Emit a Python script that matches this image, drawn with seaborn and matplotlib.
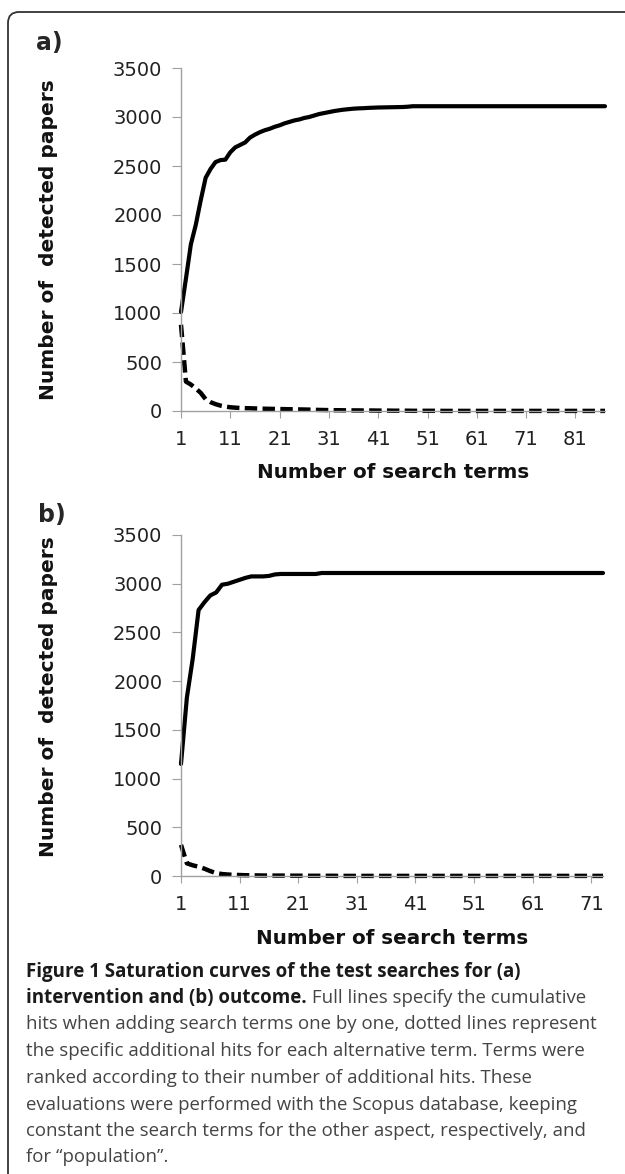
import numpy as np
import pandas as pd
import matplotlib
matplotlib.use("Agg")
import matplotlib.pyplot as plt
from matplotlib.patches import FancyBboxPatch
import seaborn as sns

# cumulative hits (full line) and additional hits (dashed line), panel a
cum_a = [1010, 1350, 1700, 1900, 2150, 2380, 2470, 2540, 2560, 2565,
         2640, 2690, 2715, 2740, 2790, 2820, 2845, 2865, 2880, 2900,
         2915, 2935, 2950, 2965, 2975, 2990, 3000, 3015, 3030, 3040,
         3050, 3060, 3068, 3075, 3080, 3085, 3088, 3090, 3093, 3095,
         3097, 3098, 3099, 3100, 3101, 3102, 3105, 3110, 3110, 3110,
         3110, 3110, 3110, 3110, 3110, 3110, 3110, 3110, 3110, 3110,
         3110, 3110, 3110, 3110, 3110, 3110, 3110, 3110, 3110, 3110,
         3110, 3110, 3110, 3110, 3110, 3110, 3110, 3110, 3110, 3110,
         3110, 3110, 3110, 3110, 3110, 3110, 3110]
add_a = [880, 300, 270, 230, 185, 120, 90, 70, 55, 45,
         38, 34, 31, 29, 28, 26, 25, 23, 22, 21,
         20, 19, 18, 17, 16, 15, 14, 12, 11, 10,
         9, 8, 8, 7, 7, 6, 6, 5, 5, 5,
         4, 4, 4, 3, 3, 3, 3, 2, 2, 2,
         2, 2, 2, 1, 1, 1, 1, 1, 1, 1,
         1, 1, 1, 1, 1, 1, 1, 1, 1, 1,
         1, 1, 1, 1, 1, 1, 1, 1, 1, 1,
         1, 1, 1, 1, 1, 1, 1]

# panel b
cum_b = [1150, 1830, 2230, 2730, 2810, 2880, 2910, 2990, 3000, 3020,
         3040, 3060, 3075, 3075, 3075, 3080, 3095, 3100, 3100, 3100,
         3100, 3100, 3100, 3100, 3110, 3110, 3110, 3110, 3110, 3110,
         3110, 3110, 3110, 3110, 3110, 3110, 3110, 3110, 3110, 3110,
         3110, 3110, 3110, 3110, 3110, 3110, 3110, 3110, 3110, 3110,
         3110, 3110, 3110, 3110, 3110, 3110, 3110, 3110, 3110, 3110,
         3110, 3110, 3110, 3110, 3110, 3110, 3110, 3110, 3110, 3110,
         3110, 3110, 3110]
add_b = [320, 130, 110, 95, 75, 50, 30, 20, 15, 12,
         10, 8, 7, 6, 5, 5, 4, 4, 4, 3,
         3, 3, 2, 2, 2, 2, 2, 1, 1, 1,
         1, 1, 1, 1, 1, 1, 1, 1, 1, 1,
         1, 1, 1, 1, 1, 1, 1, 1, 1, 1,
         1, 1, 1, 1, 1, 1, 1, 1, 1, 1,
         1, 1, 1, 1, 1, 1, 1, 1, 1, 1,
         1, 1, 1]

xticks_a = [1, 11, 21, 31, 41, 51, 61, 71, 81]
xticks_b = [1, 11, 21, 31, 41, 51, 61, 71]
yticks = [0, 500, 1000, 1500, 2000, 2500, 3000, 3500]

caption_bold = ["Figure 1 Saturation curves of the test searches for (a)",
                "intervention and (b) outcome."]
caption_rest = [" Full lines specify the cumulative",
                "hits when adding search terms one by one, dotted lines represent",
                "the specific additional hits for each alternative term. Terms were",
                "ranked according to their number of additional hits. These",
                "evaluations were performed with the Scopus database, keeping",
                "constant the search terms for the other aspect, respectively, and",
                "for \u201cpopulation\u201d."]

sns.set_style("white")
plt.rcParams['font.family'] = ['DejaVu Sans']

W, H = 625, 1174
fig = plt.figure(figsize=(W / 100, H / 100), dpi=100)


def px_axes(left, top, right, bottom):
    return fig.add_axes([left / W, 1 - bottom / H, (right - left) / W, (bottom - top) / H])


ax_a = px_axes(181, 68, 605, 411)
ax_b = px_axes(181, 535, 603, 876)

# (axes, cum, add, ticks, axis bottom px, axis top px, xlabel baseline px, ylabel centre)
panels = [(ax_a, cum_a, add_a, xticks_a, 411, 68, 478, 0.5),
          (ax_b, cum_b, add_b, xticks_b, 876, 535, 944, 0.525)]

for ax, cum, add, xt, y0, y1, xlab_base, ylab_c in panels:
    df = pd.DataFrame({"term": np.arange(1, len(cum) + 1), "cum": cum, "add": add})
    sns.lineplot(data=df, x="term", y="cum", ax=ax, color="black", linewidth=3,
                 clip_on=False, solid_joinstyle="round")
    sns.lineplot(data=df, x="term", y="add", ax=ax, color="black", linewidth=3.2,
                 linestyle=(0, (2.8, 1.2)), clip_on=False)
    ax.set_xlim(1, len(cum))
    ax.set_ylim(0, 3500)
    ax.set_xticks(xt)
    ax.set_yticks(yticks)
    for s in ["top", "right"]:
        ax.spines[s].set_visible(False)
    for s in ["left", "bottom"]:
        ax.spines[s].set_color("#a0a0a0")
        ax.spines[s].set_linewidth(1.0)
    ax.tick_params(axis="y", direction="out", length=6.5, width=0.8, color="#a0a0a0",
                   labelsize=14, pad=7, labelcolor="#222222", left=True)
    ax.tick_params(axis="x", direction="out", length=5, width=0.8, color="#a0a0a0",
                   labelsize=14, pad=9, labelcolor="#222222", bottom=True)
    ax.set_xlabel("Number of search terms", fontsize=14.3, fontweight="bold", color="#111111")
    ax.set_ylabel("Number of  detected papers", fontsize=14.5, fontweight="bold", color="#111111")
    ax.xaxis.label.set_va("baseline")
    ax.xaxis.set_label_coords(0.5, (y0 - xlab_base) / (y0 - y1))
    ax.yaxis.label.set_va("baseline")
    ax.yaxis.set_label_coords((54 - 181) / (ax.get_position().width * W), ylab_c)
    ax.patch.set_alpha(0)

fig.text(36 / W, 1 - 43 / H, "a)", fontsize=17, fontweight="bold", ha="left", va="center")
fig.text(38 / W, 1 - 515 / H, "b)", fontsize=17, fontweight="bold", ha="left", va="center")

# rounded frame around the figure
frame = FancyBboxPatch((0.08, -0.3), 7.0, 11.62 + 0.3,
                       boxstyle="round,pad=0,rounding_size=0.11",
                       transform=fig.dpi_scale_trans, fill=False,
                       edgecolor="#333333", linewidth=1.3, clip_on=False)
fig.patches.append(frame)

# caption
cap_font = ["Open Sans", "DejaVu Sans"]
line_y = [972, 998, 1024, 1051, 1078, 1105, 1131, 1157]
x0 = 26 / W
fs_b, fs_r = 13.5, 13.4
t = fig.text(x0, 1 - line_y[0] / H, caption_bold[0], fontsize=fs_b, fontweight="bold",
             family=cap_font, color="#1a1a1a", va="center")
t2 = fig.text(x0, 1 - line_y[1] / H, caption_bold[1], fontsize=fs_b, fontweight="bold",
              family=cap_font, color="#1a1a1a", va="center")
fig.canvas.draw()
bb = t2.get_window_extent(renderer=fig.canvas.get_renderer())
fig.text(bb.x1 / W, 1 - line_y[1] / H, caption_rest[0], fontsize=fs_r,
         family=cap_font, color="#444444", va="center")
for txt, y in zip(caption_rest[1:], line_y[2:]):
    fig.text(x0, 1 - y / H, txt, fontsize=fs_r, family=cap_font, color="#444444", va="center")

fig.savefig("out.png", dpi=100)
